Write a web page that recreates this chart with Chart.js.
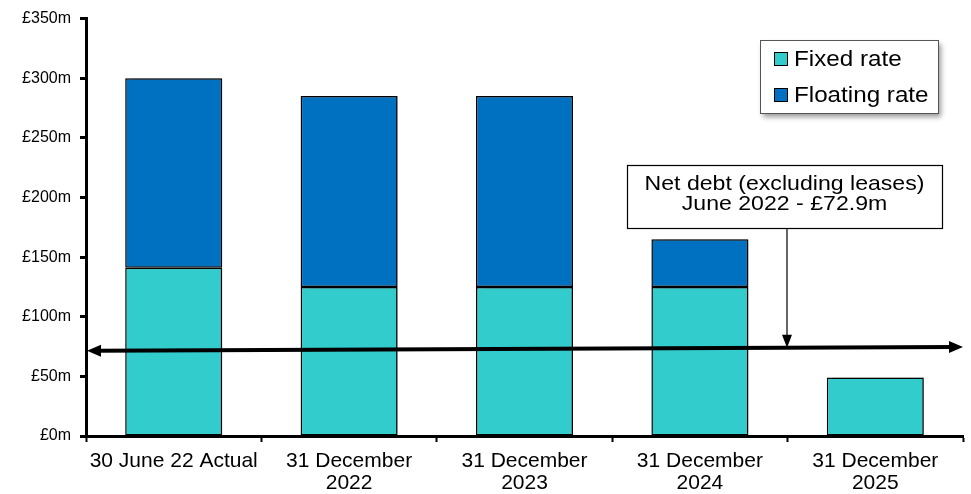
<!DOCTYPE html>
<html>
<head>
<meta charset="utf-8">
<script src="https://cdn.jsdelivr.net/npm/chart.js@4.4.0/dist/chart.umd.min.js"></script>
<style>
  html, body { margin: 0; padding: 0; background: #fff; }
  #wrap { width: 971px; height: 494px; }
</style>
</head>
<body>
<div id="wrap"><canvas id="debtChart" width="971" height="494"></canvas></div>
<script>
// values
const categories = ['30 June 22 Actual', ['31 December', '2022'], ['31 December', '2023'], ['31 December', '2024'], ['31 December', '2025']];
const fixedRate = [141, 125, 125, 125, 49];
const floatingRate = [159, 160, 160, 40, null];
const seriesNames = ['Fixed rate', 'Floating rate'];
const seriesColors = ['#33CCCC', '#0070C0'];
const netDebtLine = [71.5, 74.7];   // arrow runs slightly uphill across the plot
const noteLines = ['Net debt (excluding leases)', 'June 2022 - \u00a372.9m'];

const FONT = '"Liberation Sans", Arial, sans-serif';

function arrowHead(ctx, x, y, dir, len, half) {
    ctx.beginPath();
    if (dir === 'left') {
        ctx.moveTo(x, y); ctx.lineTo(x + len, y - half); ctx.lineTo(x + len, y + half);
    } else if (dir === 'right') {
        ctx.moveTo(x, y); ctx.lineTo(x - len, y - half); ctx.lineTo(x - len, y + half);
    } else {
        ctx.moveTo(x, y); ctx.lineTo(x - half, y - len); ctx.lineTo(x + half, y - len);
    }
    ctx.closePath();
    ctx.fill();
}

// text in the original is a little wider than Liberation Sans, so stretch it slightly
function wideText(ctx, text, x, y, sx) {
    ctx.save();
    ctx.translate(x, y);
    ctx.scale(sx, 1);
    ctx.fillText(text, 0, 0);
    ctx.restore();
}

// soft shadow behind the bars
const barShadow = {
    id: 'barShadow',
    beforeDatasetsDraw(chart) {
        const ctx = chart.ctx;
        ctx.save();
        ctx.shadowColor = 'rgba(0,0,0,0.35)';
        ctx.shadowBlur = 6;
        ctx.shadowOffsetX = 4;
        ctx.shadowOffsetY = 0;
    },
    afterDatasetsDraw(chart) {
        chart.ctx.restore();
    }
};

const overlay = {
    id: 'overlay',
    afterDraw(chart) {
        const ctx = chart.ctx;
        const area = chart.chartArea;
        const y = chart.scales.y;

        // net debt arrow
        const yl = y.getPixelForValue(netDebtLine[0]);
        const yr = y.getPixelForValue(netDebtLine[1]);
        ctx.save();
        ctx.strokeStyle = '#000';
        ctx.fillStyle = '#000';
        ctx.lineWidth = 4;
        ctx.beginPath();
        ctx.moveTo(area.left + 10, yl);
        ctx.lineTo(area.right - 10, yr);
        ctx.stroke();
        arrowHead(ctx, area.left + 1, yl, 'left', 14, 6);
        arrowHead(ctx, area.right, yr, 'right', 14, 6);

        // callout box
        const bx = 627, by = 165, bw = 315, bh = 63;
        const px = 787;
        const t = (px - area.left) / (area.right - area.left);
        const py = yl + (yr - yl) * t;
        ctx.lineWidth = 1.2;
        ctx.beginPath();
        ctx.moveTo(px, by + bh);
        ctx.lineTo(px, py - 12);
        ctx.stroke();
        arrowHead(ctx, px, py, 'down', 13, 5);
        ctx.fillStyle = '#fff';
        ctx.fillRect(bx, by, bw, bh);
        ctx.strokeRect(bx + 0.5, by + 0.5, bw, bh);
        ctx.fillStyle = '#000';
        ctx.font = '21px ' + FONT;
        ctx.textAlign = 'center';
        ctx.textBaseline = 'middle';
        wideText(ctx, noteLines[0], bx + bw / 2, by + 19, 1.1);
        wideText(ctx, noteLines[1], bx + bw / 2, by + 39, 1.1);

        // legend
        const lx = 760, ly = 40, lw = 178, lh = 73;
        ctx.save();
        ctx.shadowColor = 'rgba(0,0,0,0.4)';
        ctx.shadowBlur = 5;
        ctx.shadowOffsetX = 3;
        ctx.shadowOffsetY = 4;
        ctx.fillStyle = '#fff';
        ctx.fillRect(lx, ly, lw, lh);
        ctx.restore();
        ctx.strokeStyle = '#555';
        ctx.lineWidth = 1;
        ctx.strokeRect(lx + 0.5, ly + 0.5, lw, lh);
        ctx.textAlign = 'left';
        ctx.font = '22px ' + FONT;
        seriesNames.forEach((name, i) => {
            const cy = ly + 19 + i * 36;
            ctx.fillStyle = seriesColors[i];
            ctx.fillRect(lx + 14, cy - 7, 14, 14);
            ctx.strokeStyle = '#000';
            ctx.strokeRect(lx + 14.5, cy - 6.5, 13, 13);
            ctx.fillStyle = '#000';
            wideText(ctx, name, lx + 34, cy + 1, 1.1);
        });
        ctx.restore();
    }
};

new Chart(document.getElementById('debtChart'), {
    type: 'bar',
    data: {
        labels: categories,
        datasets: [{
            label: seriesNames[0],
            data: fixedRate,
            backgroundColor: seriesColors[0],
            borderColor: '#000',
            borderWidth: 1.5,
            borderSkipped: false
        }, {
            label: seriesNames[1],
            data: floatingRate,
            backgroundColor: seriesColors[1],
            borderColor: '#000',
            borderWidth: 1.5,
            borderSkipped: false
        }]
    },
    options: {
        responsive: false,
        animation: false,
        layout: { padding: { top: 16, right: 8, left: 0, bottom: 0 } },
        categoryPercentage: 1,
        barPercentage: 0.553,
        plugins: {
            legend: { display: false },
            tooltip: { enabled: false }
        },
        scales: {
            x: {
                stacked: true,
                grid: {
                    drawOnChartArea: false,
                    drawTicks: true,
                    tickLength: 6,
                    tickWidth: 2,
                    tickColor: '#000',
                    offset: true
                },
                border: { color: '#000', width: 3 },
                ticks: {
                    color: '#000',
                    font: { family: FONT, size: 21, lineHeight: 1.05 },
                    padding: 8,
                    maxRotation: 0
                },
                afterFit(scale) { scale.height = 58; }
            },
            y: {
                stacked: true,
                min: 0,
                max: 350,
                grid: {
                    drawOnChartArea: false,
                    drawTicks: true,
                    tickLength: 6,
                    tickWidth: 3,
                    tickColor: '#000'
                },
                border: { color: '#000', width: 3 },
                ticks: {
                    stepSize: 50,
                    color: '#000',
                    font: { family: FONT, size: 16 },
                    padding: 9,
                    callback: v => '\u00a3' + v + 'm'
                },
                afterFit(scale) { scale.width = 86; }
            }
        }
    },
    plugins: [barShadow, overlay]
});
</script>
</body>
</html>
